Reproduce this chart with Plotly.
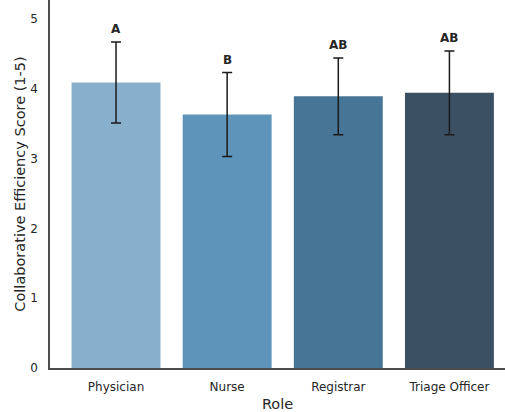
import plotly.graph_objects as go

roles = ["Physician", "Nurse", "Registrar", "Triage Officer"]
mean_scores = [4.09, 3.63, 3.89, 3.94]
sd_scores = [0.58, 0.60, 0.55, 0.60]
group_letters = ["A", "B", "AB", "AB"]
bar_colors = ["#88AFCB", "#5E93BA", "#467596", "#3C5064"]
y_ticks = [0, 1, 2, 3, 4, 5]

fig = go.Figure()
fig.add_trace(go.Bar(
    x=list(range(len(roles))),
    y=mean_scores,
    width=0.8,
    marker=dict(color=bar_colors, line=dict(width=0)),
    error_y=dict(type="data", array=sd_scores, visible=True,
                 color="#1a1a1a", thickness=1.5, width=5),
    showlegend=False,
))

# significance letters above each error bar
for i, (m, s, lab) in enumerate(zip(mean_scores, sd_scores, group_letters)):
    fig.add_annotation(x=i, y=m + s + 0.05, text=f"<b>{lab}</b>",
                       showarrow=False, yanchor="bottom",
                       font=dict(family="DejaVu Sans", size=12, color="#262626"))

fig.update_layout(
    width=505, height=412,
    margin=dict(l=50, r=0, t=0, b=44),
    paper_bgcolor="white", plot_bgcolor="white",
    font=dict(family="DejaVu Sans", color="#262626"),
    bargap=0.2,
)
fig.update_xaxes(
    range=[-0.594, 3.5],
    tickmode="array", tickvals=list(range(len(roles))), ticktext=roles,
    showline=True, linecolor="#4d4d4d", linewidth=1.5,
    showgrid=False, zeroline=False, ticks="", ticklabelstandoff=7,
    tickfont=dict(size=12, color="#262626"),
    title=dict(text="Role", font=dict(size=14.5, color="#262626"), standoff=6),
)
fig.update_yaxes(
    range=[0, 5.27],
    tickmode="array", tickvals=y_ticks,
    showline=True, linecolor="#4d4d4d", linewidth=1.5,
    showgrid=False, zeroline=False, ticks="", ticklabelstandoff=8,
    tickfont=dict(size=12, color="#262626"),
    title=dict(text="Collaborative Efficiency Score (1-5)",
               font=dict(size=14.5, color="#262626"), standoff=1),
)

fig.write_html("out.html")
